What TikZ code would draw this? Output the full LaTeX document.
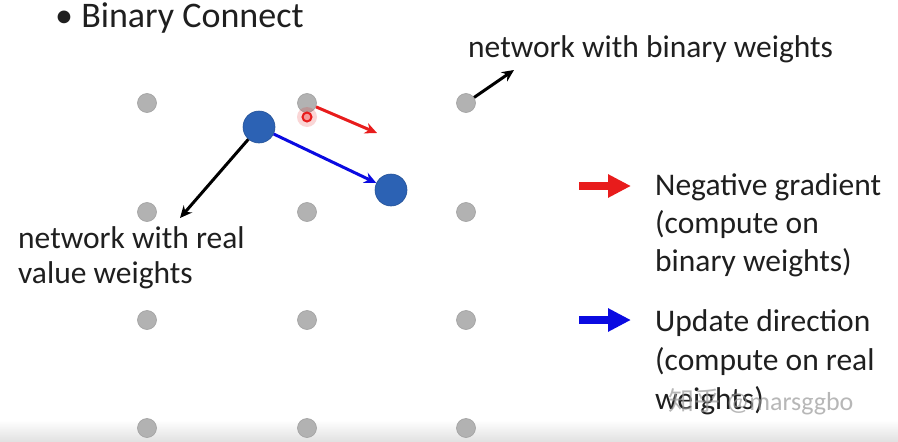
\documentclass[tikz,border=0pt]{standalone}
\usepackage{fontspec}
\setmainfont{Carlito}
\newfontfamily\cjkfont{Noto Sans CJK SC}
\usetikzlibrary{arrows.meta}
\definecolor{dotgray}{RGB}{178,178,178}
\definecolor{dotedge}{RGB}{160,160,160}
\definecolor{wblue}{RGB}{44,98,180}
\definecolor{ublue}{RGB}{10,10,225}
\definecolor{gred}{RGB}{232,28,28}
\tikzset{
  gdot/.style={circle, fill=dotgray, draw=dotedge, line width=0.6pt, minimum size=19pt, inner sep=0pt},
  bdot/.style={circle, fill=wblue, draw=wblue!85!black, line width=0.6pt, minimum size=32pt, inner sep=0pt},
  txt/.style={anchor=base west, inner sep=0pt, font=\fontsize{31.5}{38}\selectfont, text=black!88},
  conn/.style={line width=3pt, -{Stealth[length=12pt,width=11pt]}},
  legarrow/.style={line width=8pt, -{Triangle[length=23pt,width=22pt]}},
}
\begin{document}
\begin{tikzpicture}[x=1pt,y=-1pt]
\useasboundingbox (0,0) rectangle (898,442);
\fill[white] (0,0) rectangle (898,442);
\shade[top color=white, bottom color=black!12] (0,420) rectangle (898,442);
% grid dots
\foreach \c/\xx in {1/147,2/307,3/466}{
  \foreach \r/\yy in {1/103,2/212,3/320,4/428}{
    \node[gdot] (g\r\c) at (\xx,\yy) {};
  }
}
% weight dots
\node[bdot] (b1) at (259,127) {};
\node[bdot] (b2) at (391,190) {};
% red glowing marker
\fill[gred, opacity=0.18] (307,117) circle (10);
\node[circle, draw=gred, fill=gred!45, line width=2pt, minimum size=9pt, inner sep=0pt] (rg) at (307,117) {};
% connectors
\coordinate (redend) at (377,133);
\coordinate (realend) at (180,218);
\coordinate (binend) at (514,70);
\draw[conn, gred] (g12) -- (redend);
\draw[conn, ublue] (b1) -- (b2);
\draw[conn, black] (b1) -- (realend);
\draw[conn, black] (g13) -- (binend);
% texts
\node[txt, font=\fontsize{36}{42}\selectfont] (title) at (55,27) {\textbullet\ Binary Connect};
\node[txt] (binlab) at (468,57) {network with binary weights};
\node[txt] (real1) at (18,248) {network with real};
\node[txt] (real2) at (18,283) {value weights};
% legend
\coordinate (la1) at (579,186);
\coordinate (la2) at (631,186);
\draw[legarrow, gred] (la1) -- (la2);
\node[txt] (ng1) at (655,195) {Negative gradient};
\node[txt] (ng2) at (655,233) {(compute on};
\node[txt] (ng3) at (655,271) {binary weights)};
\coordinate (lb1) at (579,320);
\coordinate (lb2) at (631,320);
\draw[legarrow, ublue] (lb1) -- (lb2);
\node[txt] (ud1) at (655,331) {Update direction};
\node[txt] (ud2) at (655,370) {(compute on real};
\node[txt] (ud3) at (655,409) {weights)};
% watermark
\node[anchor=base west, inner sep=0pt, font=\fontsize{26}{30}\selectfont, text=black!40, opacity=0.7] (wm) at (668,410) {{\cjkfont 知乎} @marsggbo};
\end{tikzpicture}
\end{document}
